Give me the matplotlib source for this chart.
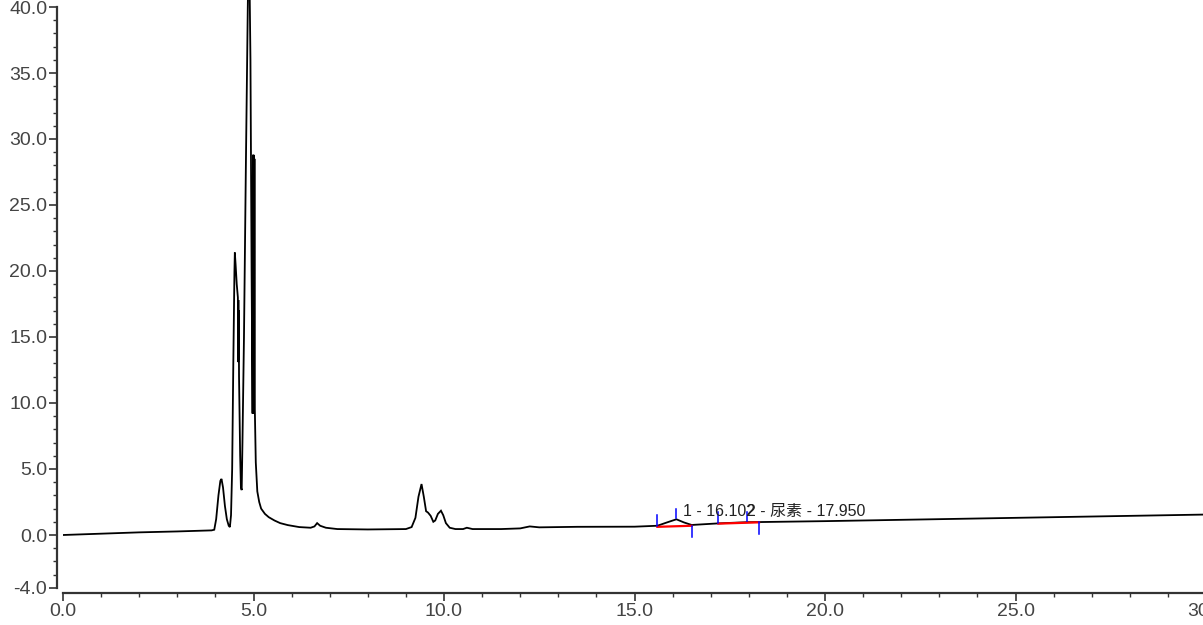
import matplotlib
matplotlib.use("Agg")
import matplotlib.pyplot as plt
from matplotlib.ticker import MultipleLocator, FixedLocator, FormatStrFormatter

# ---- data ----
time_min = [0.0, 1.0, 2.0, 3.0, 3.9, 3.97, 4.02, 4.08, 4.13, 4.16, 4.2, 4.25, 4.3, 4.35,
            4.38, 4.41, 4.44, 4.47, 4.5, 4.51, 4.53, 4.56, 4.59, 4.597, 4.603, 4.608,
            4.613, 4.62, 4.65, 4.67, 4.69, 4.71, 4.75, 4.8, 4.85, 4.88, 4.92, 4.95,
            4.975, 4.985, 4.995, 5.005, 5.015, 5.025, 5.035, 5.06, 5.1, 5.15, 5.2, 5.3,
            5.4, 5.55, 5.7, 5.9, 6.2, 6.5, 6.6, 6.67, 6.75, 6.9, 7.2, 8.0, 9.0, 9.15,
            9.25, 9.33, 9.41, 9.47, 9.53, 9.58, 9.65, 9.72, 9.77, 9.84, 9.92, 9.98,
            10.05, 10.15, 10.3, 10.5, 10.6, 10.75, 11.5, 12.0, 12.25, 12.5, 13.5, 15.0,
            15.6, 15.85, 16.1, 16.3, 16.5, 17.2, 17.95, 18.27, 20.0, 22.0, 26.0, 30.0]
signal = [0.0, 0.1, 0.2, 0.27, 0.35, 0.4, 1.2, 3.0, 4.1, 4.25, 3.6, 2.2, 1.2, 0.7,
          0.6, 1.5, 5.0, 13.0, 20.0, 21.4, 20.5, 19.0, 18.0, 13.1, 17.8, 13.3,
          17.0, 12.0, 6.0, 3.6, 3.4, 7.0, 15.0, 28.0, 40.0, 46.0, 36.0, 20.0,
          9.2, 28.8, 9.2, 28.8, 9.2, 28.5, 9.5, 5.5, 3.3, 2.5, 2.0, 1.6,
          1.35, 1.1, 0.9, 0.75, 0.6, 0.55, 0.65, 0.9, 0.7, 0.55, 0.45, 0.42, 0.45, 0.6,
          1.3, 2.9, 3.86, 2.9, 1.8, 1.7, 1.45, 1.0, 1.1, 1.6, 1.84, 1.5,
          0.9, 0.55, 0.45, 0.45, 0.55, 0.45, 0.45, 0.5, 0.65, 0.58, 0.62, 0.63,
          0.7, 0.95, 1.19, 0.95, 0.76, 0.88, 0.97, 0.98, 1.05, 1.15, 1.35, 1.55]

peak_labels = ["1 - 16.102", "2 - 尿素 - 17.950"]
peak_start = [15.6, 17.2]
peak_start_level = [0.62, 0.86]
peak_apex = [16.10, 17.95]
peak_apex_level = [1.19, 0.97]
peak_end = [16.5, 18.27]
peak_end_level = [0.70, 0.96]

x_ticks = [0, 5, 10, 15, 20, 25, 30]
y_ticks = [-4, 0, 5, 10, 15, 20, 25, 30, 35, 40]

# ---- figure ----
W, H = 1203, 625
fig = plt.figure(figsize=(W / 100, H / 100), dpi=100)
ax = fig.add_axes([63 / W, (H - 587.8) / H, 1143 / W, 587.4 / H])
ax.set_xlim(0, 30)
ax.set_ylim(-4, 40.5)

ax.plot(time_min, signal, color="black", lw=1.3, solid_joinstyle="miter", zorder=3)

# integration baselines (red) and peak markers (blue)
for i in range(len(peak_apex)):
    ax.plot([peak_start[i], peak_end[i]], [peak_start_level[i], peak_end_level[i]],
            color="#ff0000", lw=1.6, zorder=4)
    ax.plot([peak_start[i], peak_start[i]],
            [peak_start_level[i] + 0.08, peak_start_level[i] + 0.9],
            color="#0000ff", lw=1.1, zorder=5)
    ax.plot([peak_apex[i], peak_apex[i]],
            [peak_apex_level[i] + 0.12, peak_apex_level[i] + 0.8],
            color="#0000ff", lw=1.1, zorder=5)
    ax.plot([peak_end[i], peak_end[i]],
            [peak_end_level[i], peak_end_level[i] - 0.85],
            color="#0000ff", lw=1.1, zorder=5)

label_x = [16.27, 17.95]
for i, lab in enumerate(peak_labels):
    ax.text(label_x[i], 1.45, lab, fontsize=11.5, color="#222222",
            family=["Liberation Sans", "Noto Sans CJK SC"], va="baseline", ha="left",
            zorder=6)

# ---- axes styling ----
for s in ["top", "right"]:
    ax.spines[s].set_visible(False)
ax.spines["left"].set_position(("outward", 4.3))
ax.spines["bottom"].set_position(("outward", 3.6))
ax.spines["left"].set_bounds(-4, 40)
ax.spines["bottom"].set_bounds(0, 30)
for s in ["left", "bottom"]:
    ax.spines[s].set_color("#333333")
    ax.spines[s].set_linewidth(1.6)

ax.xaxis.set_major_locator(FixedLocator(x_ticks))
ax.xaxis.set_minor_locator(MultipleLocator(1))
ax.yaxis.set_major_locator(FixedLocator(y_ticks))
ax.yaxis.set_minor_locator(MultipleLocator(1))
ax.xaxis.set_major_formatter(FormatStrFormatter("%.1f"))
ax.yaxis.set_major_formatter(FormatStrFormatter("%.1f"))

ax.tick_params(axis="both", which="major", length=5.5, width=1.2, color="#333333",
               labelsize=14, labelcolor="#444444", pad=1.5)
ax.tick_params(axis="both", which="minor", length=3, width=1.0, color="#333333")
for lbl in ax.get_xticklabels() + ax.get_yticklabels():
    lbl.set_family("Liberation Sans")

fig.savefig("out.png", dpi=100)
